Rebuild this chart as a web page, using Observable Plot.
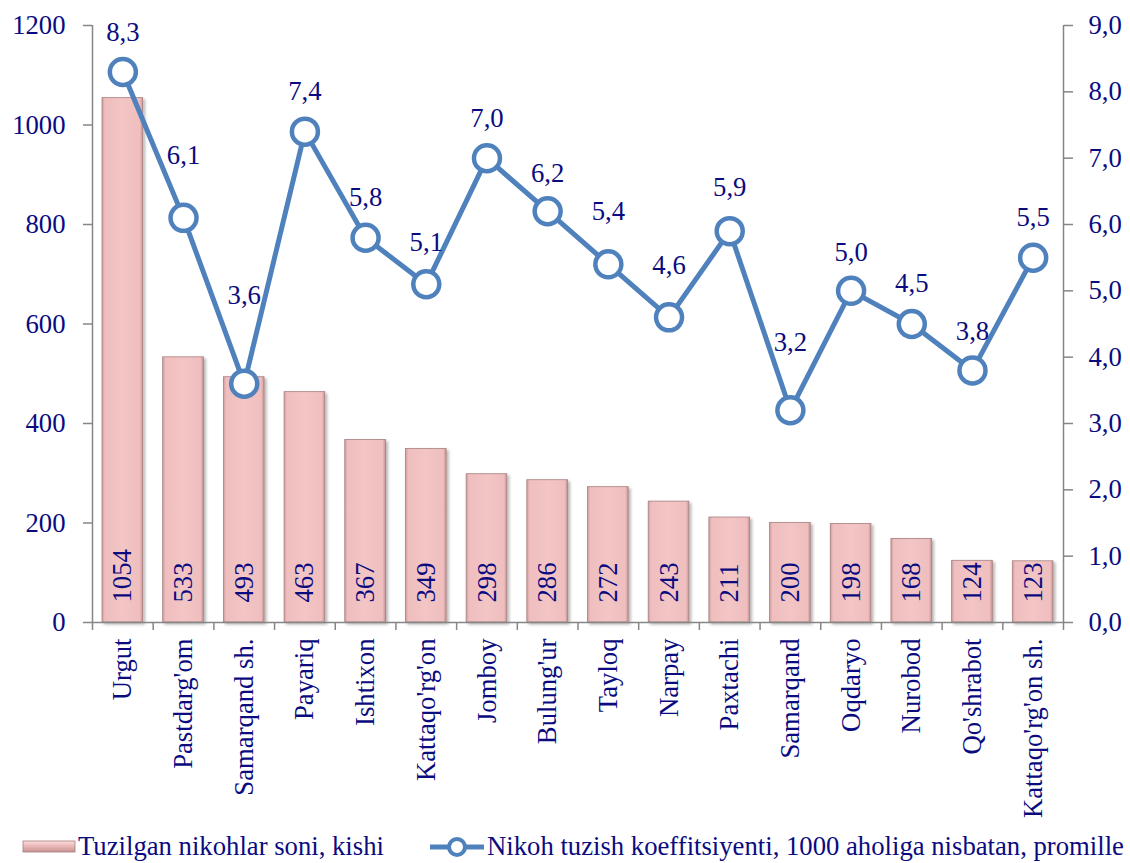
<!DOCTYPE html>
<html>
<head>
<meta charset="utf-8">
<script src="https://cdn.jsdelivr.net/npm/d3@7"></script>
<script src="https://cdn.jsdelivr.net/npm/@observablehq/plot@0.6"></script>
<style>
  html, body { margin: 0; padding: 0; background: #fff; }
  #wrap { width: 1130px; position: relative; font-family: "Liberation Serif", "Times New Roman", serif; color: #0b0b80; }
  #legend { position: relative; width: 1130px; height: 33px; font-size: 26.7px; }
  #legend .t { position: absolute; top: 1px; line-height: 30px; white-space: nowrap; }
</style>
</head>
<body>
<div id="wrap">
  <div id="chart"></div>
  <div id="legend">
    <svg style="position:absolute;left:22px;top:10px" width="54" height="14">
      <defs>
        <linearGradient id="lgH" x1="0" x2="0" y1="0" y2="1">
          <stop offset="0" stop-color="#fbe2e2"/>
          <stop offset="0.35" stop-color="#efbfbf"/>
          <stop offset="1" stop-color="#c99393"/>
        </linearGradient>
      </defs>
      <rect x="1" y="1" width="52" height="11" fill="url(#lgH)" stroke="#a57c7c" stroke-width="0.8"/>
    </svg>
    <span class="t" style="left:78px">Tuzilgan nikohlar soni, kishi</span>
    <svg style="position:absolute;left:428px;top:3px" width="58" height="28">
      <line x1="2" y1="14" x2="56" y2="14" stroke="#4f81bd" stroke-width="5"/>
      <circle cx="29" cy="14" r="8" fill="#fff" stroke="#4f81bd" stroke-width="4"/>
    </svg>
    <span class="t" style="left:487px">Nikoh tuzish koeffitsiyenti, 1000 aholiga nisbatan, promille</span>
  </div>
</div>
<script>
const categories = ["Urgut","Pastdarg'om","Samarqand sh.","Payariq","Ishtixon","Kattaqo'rg'on","Jomboy","Bulung'ur","Tayloq","Narpay","Paxtachi","Samarqand","Oqdaryo","Nurobod","Qo'shrabot","Kattaqo'rg'on sh."];
const marriages = [1054,533,493,463,367,349,298,286,272,243,211,200,198,168,124,123];
const rates = [8.3,6.1,3.6,7.4,5.8,5.1,7.0,6.2,5.4,4.6,5.9,3.2,5.0,4.5,3.8,5.5];
const leftTicks = [0,200,400,600,800,1000,1200];
const rightTicks = [0,1,2,3,4,5,6,7,8,9];
// vertical offsets (px) of the rate labels above their markers
const labelDy = [-39,-62,-88,-40,-40,-42,-40,-38,-53,-52,-44,-68,-38,-41,-39,-40];

const leftMax = 1200, rightMax = 9;
const k = leftMax / rightMax;
const rows = categories.map((c, i) => ({c, n: marriages[i], r: rates[i], ry: rates[i] * k}));
const fmt = v => v.toFixed(1).replace(".", ",");

const W = 1130, H = 830, mL = 92, mR = 67, mT = 25, mB = 208;
const step = (W - mL - mR) / categories.length;
const navy = "#0b0b80", axisGray = "#868686", blue = "#4f81bd";
const FS = 26.7, FF = "Liberation Serif";

const labelMarks = rows.map((d, i) => Plot.text([d], {
  x: "c", y: "ry", text: d => fmt(d.r), dy: labelDy[i],
  fill: navy, fontSize: FS, fontFamily: FF
}));

const plot = Plot.plot({
  width: W, height: H,
  marginLeft: mL, marginRight: mR, marginTop: mT, marginBottom: mB,
  style: {fontFamily: FF, fontSize: FS + "px", color: navy, background: "#fff"},
  x: {domain: categories, paddingInner: 0.33, paddingOuter: 0.165, round: false, label: null},
  y: {domain: [0, leftMax], label: null},
  marks: [
    Plot.barY(rows, {x: "c", y: "n", fill: "url(#barGrad)", stroke: "#a88080", strokeWidth: 0.8}),
    Plot.text(rows, {x: "c", y: 0, text: d => String(d.n), rotate: -90, textAnchor: "start", dy: -20,
      fill: navy, fontSize: FS, fontFamily: FF}),
    // axis lines
    Plot.ruleY([0], {stroke: axisGray, strokeWidth: 1.5}),
    Plot.ruleX([categories[0]], {dx: -step / 2, y1: 0, y2: leftMax, stroke: axisGray, strokeWidth: 1.5}),
    Plot.ruleX([categories[categories.length - 1]], {dx: step / 2, y1: 0, y2: leftMax, stroke: axisGray, strokeWidth: 1.5}),
    // category boundary ticks
    Plot.ruleX(categories, {x: d => d, dx: -step / 2, y1: 0, y2: -16, stroke: axisGray, strokeWidth: 1.5}),
    Plot.ruleX([categories[categories.length - 1]], {x: d => d, dx: step / 2, y1: 0, y2: -16, stroke: axisGray, strokeWidth: 1.5}),
    Plot.axisY({anchor: "left", ticks: leftTicks, tickFormat: d => String(d), tickSize: 9, tickPadding: 18,
      stroke: axisGray, strokeWidth: 1.5, fill: navy, fontSize: FS, label: null}),
    Plot.axisY({anchor: "right", ticks: rightTicks.map(v => v * k), tickFormat: v => fmt(v / k),
      tickSize: 9, tickPadding: 16, stroke: axisGray, strokeWidth: 1.5, fill: navy, fontSize: FS, label: null}),
    Plot.axisX({tickRotate: -90, tickSize: 0, tickPadding: 16, fill: navy, fontSize: FS, label: null}),
    Plot.line(rows, {x: "c", y: "ry", stroke: blue, strokeWidth: 5}),
    Plot.dot(rows, {x: "c", y: "ry", r: 13, fill: "#fff", stroke: blue, strokeWidth: 4.5}),
    ...labelMarks
  ]
});

// gradient + shadow definitions for the bevelled bars
const ns = "http://www.w3.org/2000/svg";
const defs = document.createElementNS(ns, "defs");
defs.innerHTML = `
  <linearGradient id="barGrad" x1="0" x2="1" y1="0" y2="0">
    <stop offset="0" stop-color="#cf9c9c"/>
    <stop offset="0.07" stop-color="#efbebe"/>
    <stop offset="0.5" stop-color="#f3c5c5"/>
    <stop offset="0.93" stop-color="#efbebe"/>
    <stop offset="1" stop-color="#c79292"/>
  </linearGradient>
  <filter id="barShadow" x="-20%" y="-5%" width="150%" height="115%">
    <feDropShadow dx="2" dy="2" stdDeviation="1.5" flood-color="#000" flood-opacity="0.3"/>
  </filter>`;
plot.insertBefore(defs, plot.firstChild);
const g = plot.querySelector('[fill="url(#barGrad)"]');
if (g) g.setAttribute("filter", "url(#barShadow)");
document.getElementById("chart").appendChild(plot);
</script>
</body>
</html>
